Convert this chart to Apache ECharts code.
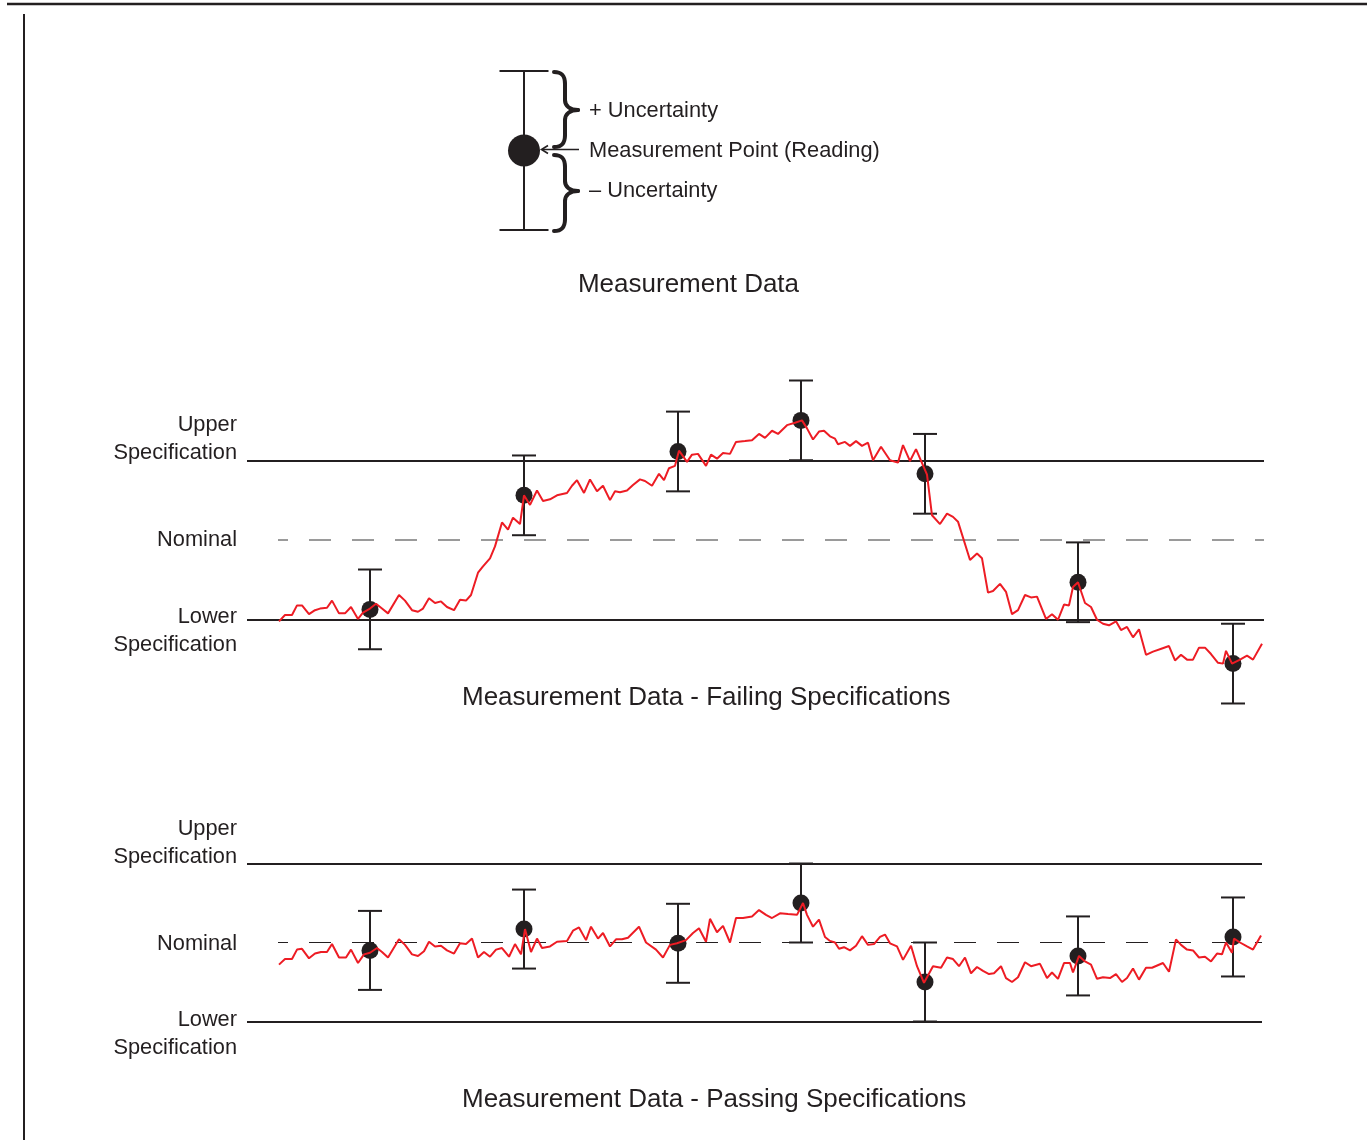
<!DOCTYPE html>
<html>
<head>
<meta charset="utf-8">
<script src="https://cdn.jsdelivr.net/npm/echarts@6/dist/echarts.min.js"></script>
<style>
html,body{margin:0;padding:0;background:#fff;}
#chart{width:1367px;height:1140px;}
</style>
</head>
<body>
<div id="chart"></div>
<script>
// ---------- DATA ----------
// x: sample position (arbitrary units), y: reading in spec units (upper = +1, nominal = 0, lower = -1)
const failX = [32,38,45,50,55,62,68,73,80,85,92,98,104,111,116,123,129,135,141,152,158,165,171,176,182,188,194,200,207,213,219,224,231,236,243,248,255,261,266,273,277,283,290,296,303,310,320,325,330,337,343,350,356,363,368,373,380,386,393,398,405,412,417,422,428,432,440,445,451,459,464,470,476,483,489,498,505,512,518,525,531,540,548,555,560,566,572,577,583,588,591,598,603,609,615,621,626,634,643,651,656,663,669,680,685,693,700,706,711,723,730,735,741,746,753,759,765,771,778,784,790,799,805,811,817,822,826,831,838,844,850,856,862,869,874,880,886,892,899,906,915,922,928,934,940,946,952,958,964,971,976,979,985,993,1000,1006,1015];
const failY = [-1.02,-0.94,-0.94,-0.82,-0.82,-0.93,-0.88,-0.86,-0.85,-0.76,-0.92,-0.92,-0.84,-0.99,-0.91,-0.86,-0.80,-0.86,-0.92,-0.69,-0.76,-0.88,-0.90,-0.86,-0.73,-0.79,-0.77,-0.84,-0.88,-0.75,-0.76,-0.69,-0.41,-0.33,-0.23,-0.08,0.22,0.13,0.28,0.20,0.56,0.44,0.62,0.49,0.51,0.56,0.59,0.68,0.75,0.59,0.76,0.61,0.68,0.50,0.61,0.60,0.62,0.69,0.76,0.74,0.68,0.83,0.75,0.90,0.93,1.12,0.98,1.07,1.08,0.93,1.07,1.02,1.09,1.08,1.23,1.24,1.25,1.33,1.28,1.37,1.33,1.44,1.47,1.50,1.40,1.26,1.36,1.37,1.30,1.27,1.20,1.23,1.18,1.24,1.18,1.22,1.00,1.17,1.00,0.97,1.19,0.99,1.14,0.82,0.31,0.20,0.33,0.29,0.23,-0.25,-0.17,-0.23,-0.66,-0.64,-0.55,-0.65,-0.93,-0.88,-0.69,-0.72,-0.71,-0.99,-0.93,-1.00,-0.81,-0.82,-0.59,-0.53,-0.79,-0.84,-1.00,-1.05,-1.07,-1.02,-1.13,-1.09,-1.22,-1.12,-1.44,-1.40,-1.36,-1.33,-1.51,-1.44,-1.50,-1.50,-1.35,-1.35,-1.43,-1.54,-1.55,-1.39,-1.55,-1.50,-1.45,-1.50,-1.30];

const passX = [32,38,45,50,55,62,68,74,80,85,92,99,104,111,117,123,130,135,141,152,158,165,171,177,182,188,194,200,207,213,219,225,231,237,243,249,255,262,268,274,278,284,290,295,303,310,320,326,332,339,344,351,356,363,369,375,381,392,399,409,416,423,430,439,446,452,459,463,470,476,483,489,496,505,512,519,525,533,541,550,556,560,566,572,578,583,588,592,597,603,609,615,621,627,633,638,643,650,656,664,670,677,686,694,700,706,712,718,724,730,736,742,747,754,759,765,771,778,784,793,800,805,811,817,823,826,832,838,844,850,856,863,869,875,880,886,892,899,905,916,922,929,934,940,946,952,958,964,970,975,979,985,987,993,1000,1006,1014];
const passY = [-0.28,-0.21,-0.21,-0.09,-0.08,-0.20,-0.14,-0.12,-0.12,-0.02,-0.19,-0.19,-0.09,-0.26,-0.15,-0.13,-0.07,-0.12,-0.19,0.04,-0.03,-0.15,-0.17,-0.11,0.01,-0.05,-0.04,-0.10,-0.14,-0.01,-0.02,0.05,-0.19,-0.12,-0.18,-0.09,-0.07,-0.18,-0.02,-0.15,0.17,-0.12,0.05,-0.07,-0.05,0.01,0.02,0.15,0.19,0.03,0.20,0.05,0.12,-0.05,0.04,0.04,0.06,0.20,0.00,-0.09,-0.19,-0.03,-0.01,0.03,0.12,0.18,0.01,0.30,0.13,0.21,0.00,0.31,0.31,0.33,0.41,0.35,0.31,0.37,0.36,0.35,0.50,0.35,0.20,0.29,0.07,0.02,0.00,-0.08,-0.06,-0.10,-0.04,0.08,-0.03,-0.02,0.07,0.10,-0.01,-0.05,-0.22,-0.04,-0.30,-0.51,-0.30,-0.32,-0.19,-0.21,-0.30,-0.19,-0.39,-0.31,-0.36,-0.40,-0.39,-0.30,-0.45,-0.50,-0.44,-0.25,-0.30,-0.27,-0.45,-0.38,-0.46,-0.26,-0.26,-0.38,-0.17,-0.24,-0.28,-0.46,-0.44,-0.45,-0.40,-0.50,-0.45,-0.33,-0.47,-0.32,-0.32,-0.26,-0.37,0.04,-0.03,-0.09,-0.10,-0.19,-0.18,-0.24,-0.14,-0.15,0.00,-0.13,0.05,0.00,-0.05,-0.09,0.09];

// measurement points with uncertainty
const readingX = [123,277,431,554,678,831,986];
const failReadings = [-0.87,0.56,1.11,1.50,0.83,-0.53,-1.55];
const passReadings = [-0.10,0.17,-0.01,0.50,-0.50,-0.17,0.07];
const uncertainty = 0.5;

// spec levels
const upperSpec = 1, nominal = 0, lowerSpec = -1;
const nominalStartX = 31;
const failXMax = 1017;
const passXMax = 1015;

// texts
const specLabels = ['Upper\nSpecification', 'Nominal', 'Lower\nSpecification'];
const legendLabels = ['+ Uncertainty', 'Measurement Point (Reading)', '\u2013 Uncertainty'];
const titles = ['Measurement Data', 'Measurement Data - Failing Specifications', 'Measurement Data - Passing Specifications'];

// legend example point
const legendPoint = [[0, 0, 1]];

// ---------- CHART ----------
const INK = '#231f20';
const RED = '#ed1c24';
const FONT = '"Liberation Sans", Arial, Helvetica, sans-serif';
const LABEL_SIZE = 21.8;
const TITLE_SIZE = 26;

function zip(xs, ys) { return xs.map((x, i) => [x, ys[i]]); }
function errData(ys) { return readingX.map((x, i) => [x, ys[i], uncertainty]); }

function makeRender(capHalf, radius) {
  return function (params, api) {
    const x = api.value(0), y = api.value(1), e = api.value(2);
    const top = api.coord([x, y + e]);
    const bot = api.coord([x, y - e]);
    const c = api.coord([x, y]);
    const st = { stroke: INK, lineWidth: 2 };
    return {
      type: 'group',
      children: [
        { type: 'line', shape: { x1: c[0], y1: top[1], x2: c[0], y2: bot[1] }, style: st },
        { type: 'line', shape: { x1: c[0] - capHalf, y1: top[1], x2: c[0] + capHalf, y2: top[1] }, style: st },
        { type: 'line', shape: { x1: c[0] - capHalf, y1: bot[1], x2: c[0] + capHalf, y2: bot[1] }, style: st },
        { type: 'circle', shape: { cx: c[0], cy: c[1], r: radius }, style: { fill: INK } }
      ]
    };
  };
}

function hiddenAxis(extra) {
  return Object.assign({
    type: 'value', show: false, axisLine: { show: false }, axisTick: { show: false },
    axisLabel: { show: false }, splitLine: { show: false }
  }, extra);
}

function specMarkLines(xEnd, dashColor, dashWidth) {
  return {
    silent: true, symbol: 'none', label: { show: false }, animation: false,
    data: [
      { yAxis: upperSpec, lineStyle: { color: INK, width: 2, type: 'solid' } },
      { yAxis: lowerSpec, lineStyle: { color: INK, width: 2, type: 'solid' } },
      [{ coord: [nominalStartX, nominal], lineStyle: { color: dashColor, width: dashWidth, type: [22, 21], dashOffset: 12 } },
       { coord: [xEnd, nominal] }]
    ]
  };
}

// curly brace built from bezier curves: x0 = open side, xs = spine, xt = tip
function brace(x0, xs, xt, yTop, yMid, yBot) {
  const st = { stroke: INK, lineWidth: 4, fill: null, lineCap: 'round' };
  return {
    type: 'group', silent: true,
    children: [
      { type: 'bezierCurve', shape: { x1: x0, y1: yTop, cpx1: x0 + 8, cpy1: yTop, cpx2: xs, cpy2: yTop + 4, x2: xs, y2: yTop + 12 }, style: st },
      { type: 'line', shape: { x1: xs, y1: yTop + 12, x2: xs, y2: yMid - 10 }, style: st },
      { type: 'bezierCurve', shape: { x1: xs, y1: yMid - 10, cpx1: xs, cpy1: yMid - 4, cpx2: xs + 5, cpy2: yMid, x2: xt, y2: yMid }, style: st },
      { type: 'bezierCurve', shape: { x1: xt, y1: yMid, cpx1: xs + 5, cpy1: yMid, cpx2: xs, cpy2: yMid + 4, x2: xs, y2: yMid + 10 }, style: st },
      { type: 'line', shape: { x1: xs, y1: yMid + 10, x2: xs, y2: yBot - 12 }, style: st },
      { type: 'bezierCurve', shape: { x1: xs, y1: yBot - 12, cpx1: xs, cpy1: yBot - 4, cpx2: x0 + 8, cpy2: yBot, x2: x0, y2: yBot }, style: st }
    ]
  };
}

const chart = echarts.init(document.getElementById('chart'), null, { renderer: 'canvas' });

function label(x, y, text, align, size) {
  return {
    type: 'text', silent: true,
    style: { x: x, y: y, text: text, fill: INK, font: size + 'px ' + FONT, align: align, verticalAlign: 'middle', lineHeight: 28 }
  };
}

const option = {
  animation: false,
  backgroundColor: '#ffffff',
  grid: [
    { left: 247, top: 380.5, width: failXMax, height: 319 },
    { left: 247, top: 784.5, width: passXMax, height: 316 },
    { left: 474, top: 71, width: 100, height: 159 }
  ],
  xAxis: [
    hiddenAxis({ gridIndex: 0, min: 0, max: failXMax }),
    hiddenAxis({ gridIndex: 1, min: 0, max: passXMax }),
    hiddenAxis({ gridIndex: 2, min: -1, max: 1 })
  ],
  yAxis: [
    hiddenAxis({ gridIndex: 0, min: -2, max: 2 }),
    hiddenAxis({ gridIndex: 1, min: -2, max: 2 }),
    hiddenAxis({ gridIndex: 2, min: -1, max: 1 })
  ],
  series: [
    // failing panel
    {
      type: 'custom', xAxisIndex: 0, yAxisIndex: 0, z: 3, clip: false,
      renderItem: makeRender(12, 8.5), data: errData(failReadings),
      markLine: specMarkLines(failXMax, '#7a7a7a', 1.5)
    },
    {
      type: 'line', xAxisIndex: 0, yAxisIndex: 0, z: 5, showSymbol: false, symbol: 'none',
      lineStyle: { color: RED, width: 2 }, data: zip(failX, failY)
    },
    // passing panel
    {
      type: 'custom', xAxisIndex: 1, yAxisIndex: 1, z: 3, clip: false,
      renderItem: makeRender(12, 8.5), data: errData(passReadings),
      markLine: specMarkLines(passXMax, INK, 1.2)
    },
    {
      type: 'line', xAxisIndex: 1, yAxisIndex: 1, z: 5, showSymbol: false, symbol: 'none',
      lineStyle: { color: RED, width: 2 }, data: zip(passX, passY)
    },
    // legend example
    {
      type: 'custom', xAxisIndex: 2, yAxisIndex: 2, z: 3, clip: false,
      renderItem: makeRender(24.5, 16), data: legendPoint
    }
  ],
  graphic: [
    // frame
    { type: 'line', silent: true, shape: { x1: 7, y1: 4, x2: 1367, y2: 4 }, style: { stroke: INK, lineWidth: 2.5 } },
    { type: 'line', silent: true, shape: { x1: 24, y1: 14, x2: 24, y2: 1140 }, style: { stroke: INK, lineWidth: 2 } },
    // braces
    brace(554, 565, 578, 72, 110, 147),
    brace(554, 565, 578, 155, 191, 231),
    // arrow
    { type: 'line', silent: true, shape: { x1: 579, y1: 149.5, x2: 542, y2: 149.5 }, style: { stroke: INK, lineWidth: 1.6 } },
    { type: 'polyline', silent: true, shape: { points: [[548, 145.5], [541.5, 149.5], [548, 153.5]] }, style: { stroke: INK, lineWidth: 1.6, fill: null } },
    // legend labels
    label(589, 111, legendLabels[0], 'left', LABEL_SIZE),
    label(589, 150.5, legendLabels[1], 'left', LABEL_SIZE),
    label(589, 190.5, legendLabels[2], 'left', LABEL_SIZE),
    // titles
    label(688.5, 285, titles[0], 'center', TITLE_SIZE),
    label(462, 698, titles[1], 'left', TITLE_SIZE),
    label(462, 1100, titles[2], 'left', TITLE_SIZE),
    // spec labels, failing panel
    label(237, 439, specLabels[0], 'right', LABEL_SIZE),
    label(237, 540, specLabels[1], 'right', LABEL_SIZE),
    label(237, 631, specLabels[2], 'right', LABEL_SIZE),
    // spec labels, passing panel
    label(237, 843, specLabels[0], 'right', LABEL_SIZE),
    label(237, 944, specLabels[1], 'right', LABEL_SIZE),
    label(237, 1034, specLabels[2], 'right', LABEL_SIZE)
  ]
};
chart.setOption(option);
</script>
</body>
</html>
